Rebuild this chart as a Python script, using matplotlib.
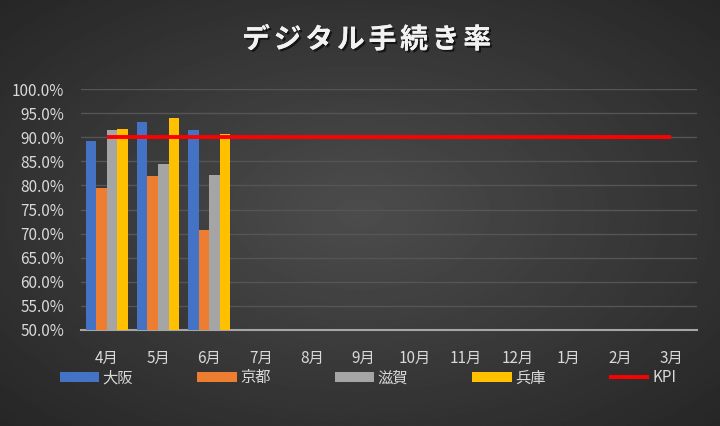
from matplotlib import pyplot as plt
import matplotlib.patheffects as pe
import matplotlib.ticker as ticker
import numpy as np

plt.rcParams['font.family'] = ['Noto Sans CJK JP', 'DejaVu Sans']

months = ['4月', '5月', '6月', '7月', '8月', '9月', '10月', '11月', '12月', '1月', '2月', '3月']
prefectures = ['大阪', '京都', '滋賀', '兵庫']
# デジタル手続き率 (4月-6月のみ)
osaka = [0.892, 0.931, 0.915]
kyoto = [0.795, 0.819, 0.707]
shiga = [0.915, 0.845, 0.822]
hyogo = [0.917, 0.939, 0.906]
kpi = [0.90] * 12
title = 'デジタル手続き率'

colors = {
    '大阪': '#4472C4',
    '京都': '#ED7D31',
    '滋賀': '#A5A5A5',
    '兵庫': '#FFC000',
}
series = {'大阪': osaka, '京都': kyoto, '滋賀': shiga, '兵庫': hyogo}
text_color = '#d9d9d9'

fig = plt.figure(figsize=(7.2, 4.26), dpi=100)

# radial gradient background
bg = fig.add_axes([0, 0, 1, 1], zorder=-10)
yy, xx = np.mgrid[-1:1:300j, -1:1:500j]
r = np.sqrt(xx ** 2 + yy ** 2) / np.sqrt(2)
bg.imshow(0.30 - 0.15 * r, cmap='gray', vmin=0, vmax=1, aspect='auto', extent=[0, 1, 0, 1])
bg.axis('off')

ax = fig.add_axes([81 / 720, 1 - 330 / 426, (697 - 81) / 720, (330 - 89) / 426])
ax.set_facecolor('none')

x = np.arange(len(months))
w = 0.205
for i, name in enumerate(prefectures):
    vals = series[name]
    ax.bar(x[:len(vals)] + (i - 1.5) * w, vals, width=w, color=colors[name],
           label=name, zorder=3)
ax.plot(x, kpi, color='#FF0000', lw=2.8, label='KPI', zorder=4, solid_capstyle='butt')

ax.set_xlim(-0.5, len(months) - 0.5)
ax.set_ylim(0.5, 1.0)
ax.yaxis.set_major_locator(ticker.MultipleLocator(0.05))
ax.yaxis.set_major_formatter(ticker.FuncFormatter(lambda v, p: f'{v * 100:.1f}%'))
ax.set_xticks(x)
ax.set_xticklabels(months)
ax.grid(axis='y', color='#555555', lw=1, zorder=0)
ax.tick_params(length=0, colors=text_color, labelsize=11)
ax.tick_params(axis='x', pad=14)
ax.tick_params(axis='y', pad=12)
for s in ['top', 'right', 'left']:
    ax.spines[s].set_visible(False)
ax.spines['bottom'].set_color('#a6a6a6')
ax.spines['bottom'].set_linewidth(1.5)

# title with letter spacing
shadow = [pe.withSimplePatchShadow(offset=(1.5, -1.5), shadow_rgbFace='black', alpha=0.6), pe.Normal()]
pitch = 31.6
x0 = 256
for k, ch in enumerate(title):
    fig.text((x0 + k * pitch) / 720, 1 - 40 / 426, ch, ha='center', va='center',
             color='#f2f2f2', fontsize=20, fontweight='bold', path_effects=shadow)

handles, labels = ax.get_legend_handles_labels()
handles = handles[1:] + handles[:1]
labels = labels[1:] + labels[:1]
leg = fig.legend(handles, labels, ncol=5, loc='center left',
                 bbox_to_anchor=(46 / 720, 1 - 380 / 426, (690 - 46) / 720, 0.01),
                 mode='expand', frameon=False, fontsize=11, labelcolor=text_color,
                 handlelength=2.6, handleheight=0.55, handletextpad=0.2)

plt.savefig('out.png', dpi=100)
